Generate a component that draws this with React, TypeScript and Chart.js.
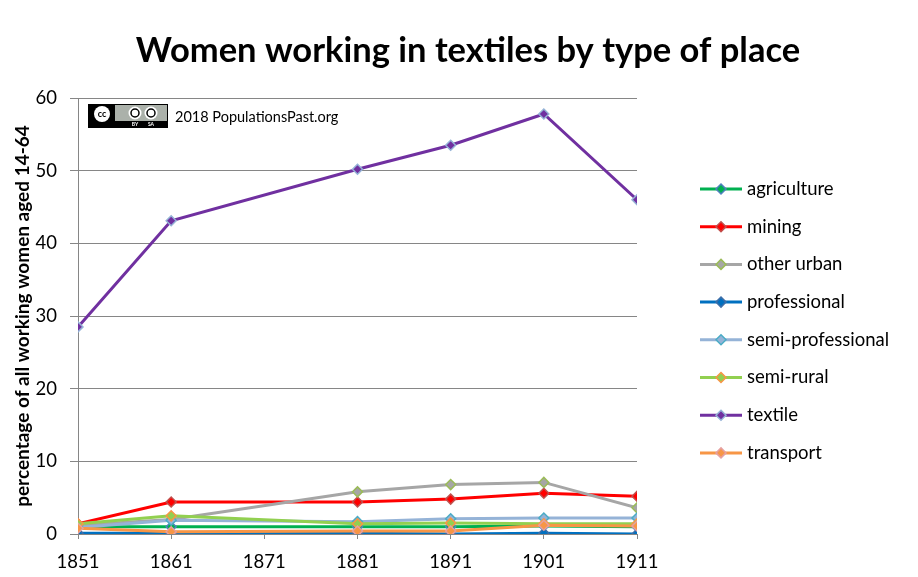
import { useEffect, useRef } from "react";
import { Chart, registerables, type ChartConfiguration, type Plugin } from "chart.js";

Chart.register(...registerables);

const FONT = "Lato, 'Open Sans', sans-serif";

const years = [1851, 1861, 1881, 1891, 1901, 1911];
const xTickYears = [1851, 1861, 1871, 1881, 1891, 1901, 1911];

const agriculture = [1.0, 1.0, 1.0, 1.0, 1.1, 1.0];
const mining = [1.4, 4.4, 4.4, 4.8, 5.6, 5.2];
const otherUrban = [1.2, 2.0, 5.8, 6.8, 7.1, 3.6];
const professional = [0.1, 0.1, 0.1, 0.0, 0.1, 0.0];
const semiProfessional = [0.9, 1.9, 1.7, 2.1, 2.2, 2.2];
const semiRural = [1.4, 2.5, 1.4, 1.5, 1.4, 1.4];
const textile = [28.5, 43.1, 50.2, 53.5, 57.8, 46.0];
const transport = [0.8, 0.3, 0.4, 0.4, 1.2, 1.1];

const seriesNames = [
  "agriculture",
  "mining",
  "other urban",
  "professional",
  "semi-professional",
  "semi-rural",
  "textile",
  "transport",
];
const seriesValues = [
  agriculture,
  mining,
  otherUrban,
  professional,
  semiProfessional,
  semiRural,
  textile,
  transport,
];
const lineColors = [
  "#00b050",
  "#ff0000",
  "#a6a6a6",
  "#0070c0",
  "#95b3d7",
  "#92d050",
  "#7030a0",
  "#f79646",
];
const markerEdges = [
  "#4f81bd",
  "#c0504d",
  "#9bbb59",
  "#3d6ea8",
  "#4bacc6",
  "#f79646",
  "#95b3d7",
  "#e6a0a0",
];

function drawDiamond(ctx: CanvasRenderingContext2D, x: number, y: number, r: number, fill: string, edge: string) {
  ctx.beginPath();
  ctx.moveTo(x, y - r);
  ctx.lineTo(x + r, y);
  ctx.lineTo(x, y + r);
  ctx.lineTo(x - r, y);
  ctx.closePath();
  ctx.fillStyle = fill;
  ctx.fill();
  ctx.lineWidth = 1.5;
  ctx.strokeStyle = edge;
  ctx.stroke();
}

const decorPlugin: Plugin<"line"> = {
  id: "decor",
  afterDraw(chart) {
    const ctx = chart.ctx;
    ctx.save();

    // title
    ctx.fillStyle = "#000";
    ctx.font = `bold 34.5px ${FONT}`;
    ctx.textAlign = "center";
    ctx.textBaseline = "middle";
    ctx.fillText("Women working in textiles by type of place", 468, 51);

    // licence badge
    ctx.fillStyle = "#abb1aa";
    ctx.fillRect(88, 104, 80, 24);
    ctx.strokeStyle = "#000";
    ctx.lineWidth = 1;
    ctx.strokeRect(88.5, 104.5, 79, 23);
    ctx.fillStyle = "#000";
    ctx.fillRect(89, 121, 78, 6);
    ctx.fillRect(89, 105, 26, 22);
    ctx.fillStyle = "#fff";
    ctx.beginPath();
    ctx.arc(102, 114, 8, 0, Math.PI * 2);
    ctx.fill();
    ctx.fillStyle = "#000";
    ctx.font = `bold 9px ${FONT}`;
    ctx.fillText("cc", 102, 114);
    for (const cx of [135, 151]) {
      ctx.fillStyle = "#fff";
      ctx.beginPath();
      ctx.arc(cx, 113, 6.5, 0, Math.PI * 2);
      ctx.fill();
      ctx.strokeStyle = "#000";
      ctx.lineWidth = 1.5;
      ctx.beginPath();
      ctx.arc(cx, 113, 4, 0, Math.PI * 2);
      ctx.stroke();
    }
    ctx.fillStyle = "#fff";
    ctx.font = `bold 5px ${FONT}`;
    ctx.fillText("BY", 135, 124.5);
    ctx.fillText("SA", 151, 124.5);

    ctx.fillStyle = "#000";
    ctx.textAlign = "left";
    ctx.font = `14.5px ${FONT}`;
    ctx.fillText("2018 PopulationsPast.org", 175, 117);

    // legend
    ctx.font = `18.5px ${FONT}`;
    seriesNames.forEach((name, i) => {
      const y = 189 + i * 37.7;
      ctx.strokeStyle = lineColors[i];
      ctx.lineWidth = 3;
      ctx.beginPath();
      ctx.moveTo(700, y);
      ctx.lineTo(742, y);
      ctx.stroke();
      drawDiamond(ctx, 721, y, 5, lineColors[i], markerEdges[i]);
      ctx.fillStyle = "#000";
      ctx.fillText(name, 747, y);
    });

    ctx.restore();
  },
};

function buildConfig(): ChartConfiguration<"line"> {
  return {
    type: "line",
    data: {
      datasets: seriesNames.map((name, i) => ({
        label: name,
        data: years.map((year, j) => ({ x: year, y: seriesValues[i][j] })),
        borderColor: lineColors[i],
        backgroundColor: lineColors[i],
        borderWidth: 3,
        tension: 0,
        pointStyle: "rectRot",
        pointRadius: 5,
        pointHoverRadius: 5,
        pointBorderWidth: 1.5,
        pointBackgroundColor: lineColors[i],
        pointBorderColor: markerEdges[i],
        order: seriesNames.length - i,
      })),
    },
    options: {
      animation: false,
      responsive: true,
      maintainAspectRatio: false,
      events: [],
      layout: {
        padding: { top: 98, right: 281, bottom: 0, left: 0 },
      },
      plugins: {
        legend: { display: false },
        title: { display: false },
        tooltip: { enabled: false },
      },
      scales: {
        x: {
          type: "linear",
          min: 1851,
          max: 1911,
          afterBuildTicks(scale) {
            scale.ticks = xTickYears.map((value) => ({ value }));
          },
          afterFit(scale) {
            scale.height = 43;
          },
          border: { display: true, color: "#868686", width: 1 },
          grid: {
            drawOnChartArea: false,
            drawTicks: true,
            tickLength: 5,
            color: "#868686",
          },
          ticks: {
            color: "#000",
            font: { family: FONT, size: 18.5 },
            padding: 12,
            maxRotation: 0,
            callback(value) {
              return String(value);
            },
          },
        },
        y: {
          min: 0,
          max: 60,
          afterFit(scale) {
            scale.width = 78;
          },
          border: { display: true, color: "#868686", width: 1 },
          grid: {
            color: "#868686",
            tickLength: 8,
            drawTicks: true,
          },
          ticks: {
            stepSize: 10,
            color: "#000",
            font: { family: FONT, size: 18.5 },
            padding: 13,
          },
          title: {
            display: true,
            text: "percentage of all working women aged 14-64",
            color: "#000",
            font: { family: FONT, size: 19, weight: "bold" },
            padding: { top: 11, bottom: 0 },
          },
        },
      },
    },
    plugins: [decorPlugin],
  };
}

function WomenTextilesChart() {
  const canvasRef = useRef<HTMLCanvasElement>(null);

  useEffect(() => {
    if (!canvasRef.current) {
      return;
    }
    const chart = new Chart(canvasRef.current, buildConfig());
    return () => {
      chart.destroy();
    };
  }, []);

  return <canvas ref={canvasRef} />;
}

export default function App() {
  return (
    <div
      style={{
        position: "fixed",
        left: 0,
        top: 0,
        width: 918,
        height: 577,
        background: "#fff",
      }}
    >
      <WomenTextilesChart />
    </div>
  );
}
